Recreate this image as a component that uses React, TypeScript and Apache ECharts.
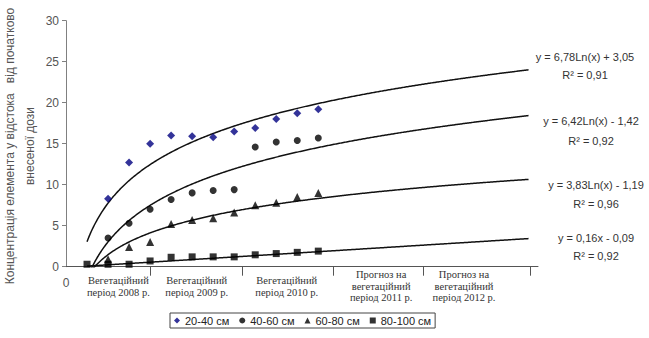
import React, { useEffect, useRef } from 'react';
import * as echarts from 'echarts';

// ---- data ----
const xValues = [1, 2, 3, 4, 5, 6, 7, 8, 9, 10, 11, 12];
const seriesNames = ['20-40 см', '40-60 см', '60-80 см', '80-100 см'];
const v2040 = [null, 8.3, 12.7, 15.0, 16.0, 15.9, 15.8, 16.5, 16.9, 18.0, 18.7, 19.2];
const v4060 = [null, 3.5, 5.3, 7.0, 8.2, 9.0, 9.3, 9.4, 14.6, 15.2, 15.4, 15.7];
const v6080 = [null, 0.9, 2.4, 3.0, 5.2, 5.7, 5.9, 6.6, 7.5, 7.8, 8.5, 9.0];
const v80100 = [0.3, 0.3, 0.3, 0.7, 1.15, 1.2, 1.2, 1.2, 1.45, 1.6, 1.75, 1.9];

// trendlines as printed on the chart: kind, a, b
const trendKinds = ['ln', 'ln', 'ln', 'lin'];
const trendA = [6.78, 6.42, 3.83, 0.16];
const trendB = [3.05, -1.42, -1.19, -0.09];
const trendFrom = 1;
const trendTo = 22;
const eqTexts = ['y = 6,78Ln(x) + 3,05', 'y = 6,42Ln(x) - 1,42', 'y = 3,83Ln(x) - 1,19', 'y = 0,16x - 0,09'];
const r2Texts = ['R² = 0,91', 'R² = 0,92', 'R² = 0,96', 'R² = 0,92'];

const yTicks = { min: 0, max: 30, interval: 5 };
const periodBounds = [4, 8.36, 12.69, 17, 22.07];
const periodLabelPos = [2.49, 6.22, 10.5, 14.99, 18.93];
const periodLabels = [
  'Вегетаційний\nперіод 2008 р.',
  'Вегетаційний\nперіод 2009 р.',
  'Вегетаційний\nперіод 2010 р.',
  'Прогноз на\nвегетаційний\nперіод 2011 р.',
  'Прогноз на\nвегетаційний\nперіод 2012 р.',
];
const yTitle = 'Концентрація елемента у відстока   від початково\nвнесеної дози';

const symbols = ['diamond', 'circle', 'triangle', 'rect'];
const colors = ['#000080', '#000000', '#000000', '#000000'];
const symbolSizes = [8, 7, 8, 7];
const valueSets = [v2040, v4060, v6080, v80100];

const SANS = '"Liberation Sans", Arial, sans-serif';
const SERIF = '"Liberation Serif", "Times New Roman", serif';

function trendPoints(k: number) {
  const pts: number[][] = [];
  const step = 0.05;
  for (let x = trendFrom; x <= trendTo + 1e-9; x += step) {
    const y = trendKinds[k] === 'ln' ? trendA[k] * Math.log(x) + trendB[k] : trendA[k] * x + trendB[k];
    pts.push([x, y]);
  }
  return pts;
}

export default function App() {
  const ref = useRef<HTMLDivElement>(null);
  useEffect(() => {
    if (!ref.current) return;
    const chart = echarts.init(ref.current, undefined, { renderer: 'svg' });

    const trendSeries = valueSets.map((_, k) => ({
      type: 'line',
      name: 'trend' + k,
      data: trendPoints(k),
      showSymbol: false,
      symbol: 'none',
      clip: true,
      z: 1,
      lineStyle: { color: '#111', width: 1.5 },
      silent: true,
    }));

    const scatterSeries = valueSets.map((vals, k) => ({
      type: 'scatter',
      name: seriesNames[k],
      symbol: symbols[k],
      symbolSize: symbolSizes[k],
      itemStyle: { color: colors[k] },
      z: 3 + k,
      data: xValues
        .map((x, i) => (vals[i] === null ? null : [x, vals[i]]))
        .filter((d) => d !== null),
    }));

    const eqGraphics: any[] = [];
    const eqX = [585, 591, 596, 596];
    const eqY = [57, 121, 185, 238];
    const r2Y = [75, 141, 204, 256];
    eqTexts.forEach((t, k) => {
      eqGraphics.push({
        type: 'text',
        x: eqX[k],
        y: eqY[k],
        style: { text: t, fill: '#333', font: `11px ${SANS}`, textAlign: 'center', textVerticalAlign: 'middle' },
      });
      eqGraphics.push({
        type: 'text',
        x: eqX[k],
        y: r2Y[k],
        style: { text: r2Texts[k], fill: '#333', font: `11px ${SANS}`, textAlign: 'center', textVerticalAlign: 'middle' },
      });
    });

    const option: any = {
      animation: false,
      grid: { left: 66, right: 111, top: 20.7, bottom: 71.3, containLabel: false },
      legend: {
        data: seriesNames,
        left: 170,
        top: 313,
        orient: 'horizontal',
        itemWidth: 6,
        itemHeight: 6,
        itemGap: 10,
        padding: [2, 4, 2, 4],
        borderColor: '#444',
        borderWidth: 1,
        textStyle: { fontSize: 11, color: '#222', fontFamily: SANS },
      },
      xAxis: [
        {
          type: 'value',
          min: 0,
          max: 22.45,
          axisLine: { show: true, lineStyle: { color: '#555', width: 1 } },
          axisTick: { show: true, customValues: periodBounds, length: 9, lineStyle: { color: '#555' } },
          axisLabel: {
            customValues: [0],
            formatter: (v: number) => String(v),
            margin: 10,
            fontSize: 12,
            color: '#555',
            fontFamily: SANS,
          },
          splitLine: { show: false },
        },
        {
          type: 'value',
          min: 0,
          max: 22.45,
          position: 'bottom',
          axisLine: { show: false },
          axisTick: { show: false },
          axisLabel: {
            customValues: periodLabelPos,
            formatter: (v: number, i: number) => {
              const idx = periodLabelPos.indexOf(v);
              return periodLabels[idx >= 0 ? idx : i] || '';
            },
            verticalAlign: 'middle',
            lineHeight: 11.7,
            margin: 19.5,
            fontSize: 10.5,
            color: '#333',
            fontFamily: SERIF,
          },
          splitLine: { show: false },
        },
      ],
      yAxis: {
        type: 'value',
        min: yTicks.min,
        max: yTicks.max,
        interval: yTicks.interval,
        axisLine: { show: true, lineStyle: { color: '#808080', width: 1 } },
        axisTick: { show: true, length: 4, lineStyle: { color: '#808080' } },
        axisLabel: { margin: 7, fontSize: 12, color: '#555', fontFamily: SANS },
        splitLine: { show: false },
      },
      graphic: [
        {
          type: 'text',
          x: 20,
          y: 146,
          rotation: Math.PI / 2,
          style: {
            text: yTitle,
            fill: '#555',
            font: `12px ${SANS}`,
            lineHeight: 20,
            textAlign: 'center',
            textVerticalAlign: 'middle',
          },
        },
        ...eqGraphics,
      ],
      series: [...trendSeries, ...scatterSeries],
    };
    chart.setOption(option);
    return () => chart.dispose();
  }, []);
  return <div ref={ref} style={{ position: 'fixed', left: 0, top: 0, width: 649, height: 338, background: '#fff' }} />;
}
